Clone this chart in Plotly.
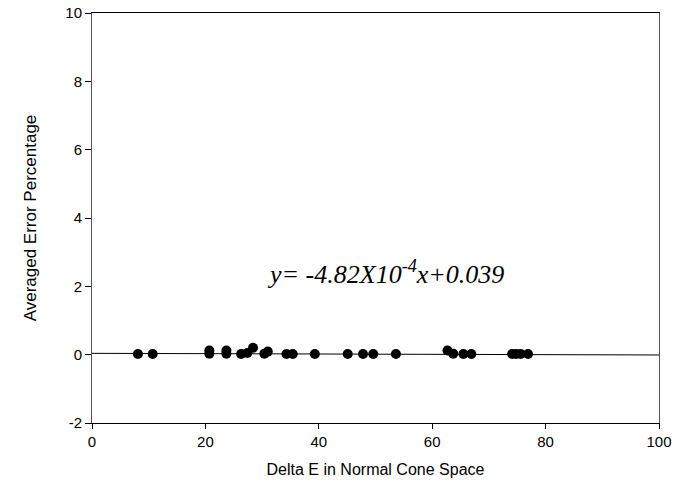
import plotly.graph_objects as go

delta_e = [8.1, 10.7, 20.7, 20.7, 23.7, 23.7, 26.3, 27.4, 28.4, 30.4, 31.0,
           34.3, 35.4, 39.3, 45.1, 47.8, 49.6, 53.6, 62.7, 63.7, 65.5, 66.9,
           74.1, 74.8, 75.6, 76.9]
avg_error = [0.02, 0.02, 0.03, 0.12, 0.03, 0.12, 0.02, 0.05, 0.2, 0.03, 0.09,
             0.02, 0.02, 0.02, 0.02, 0.02, 0.02, 0.02, 0.12, 0.03, 0.02, 0.02,
             0.02, 0.02, 0.02, 0.02]
slope = -4.82e-4
intercept = 0.039
fit_x = [0, 100]
fit_y = [intercept + slope * v for v in fit_x]
x_ticks = [0, 20, 40, 60, 80, 100]
y_ticks = [-2, 0, 2, 4, 6, 8, 10]
y_tick_text = ["-2", "0", "2", "4", "6", "8", "10"]

fig = go.Figure()
fig.add_trace(go.Scatter(x=fit_x, y=fit_y, mode="lines",
                         line=dict(color="black", width=1), showlegend=False,
                         hoverinfo="skip"))
fig.add_trace(go.Scatter(x=delta_e, y=avg_error, mode="markers",
                         marker=dict(color="black", size=10, line=dict(width=0)),
                         showlegend=False))

fig.add_annotation(x=51.8, y=2.4, xref="x", yref="y", showarrow=False,
                   text="<i>y= -4.82X10<sup>-4</sup>x+0.039</i>",
                   font=dict(family="Liberation Serif", size=26, color="black",
                             style="italic"),
                   xanchor="center", yanchor="middle")

tick_font = dict(family="Liberation Sans, Arial", size=15, color="black")
xtitle_font = dict(family="Liberation Sans, Arial", size=16, color="black")
ytitle_font = dict(family="Liberation Sans, Arial", size=17, color="black")
fig.update_layout(
    width=677, height=487,
    margin=dict(l=92, r=18, t=13, b=64),
    plot_bgcolor="white", paper_bgcolor="white",
    font=tick_font,
    xaxis=dict(range=[0, 100], tickvals=x_ticks, automargin=False,
               showgrid=False, zeroline=False, showline=True, linecolor="black",
               linewidth=1, mirror=True, ticks="outside", ticklen=5,
               tickcolor="black", tickfont=tick_font,
               title=dict(text="Delta E in Normal Cone Space", font=xtitle_font,
                          standoff=14)),
    yaxis=dict(range=[-2, 10], tickvals=y_ticks, ticktext=y_tick_text,
               automargin=False,
               showgrid=False, zeroline=False, showline=True, linecolor="#555",
               linewidth=1, mirror=True, ticks="outside", ticklen=6,
               tickcolor="black", tickfont=tick_font,
               title=dict(text="Averaged Error Percentage", font=ytitle_font,
                          standoff=24)),
)

fig.write_html("out.html")
